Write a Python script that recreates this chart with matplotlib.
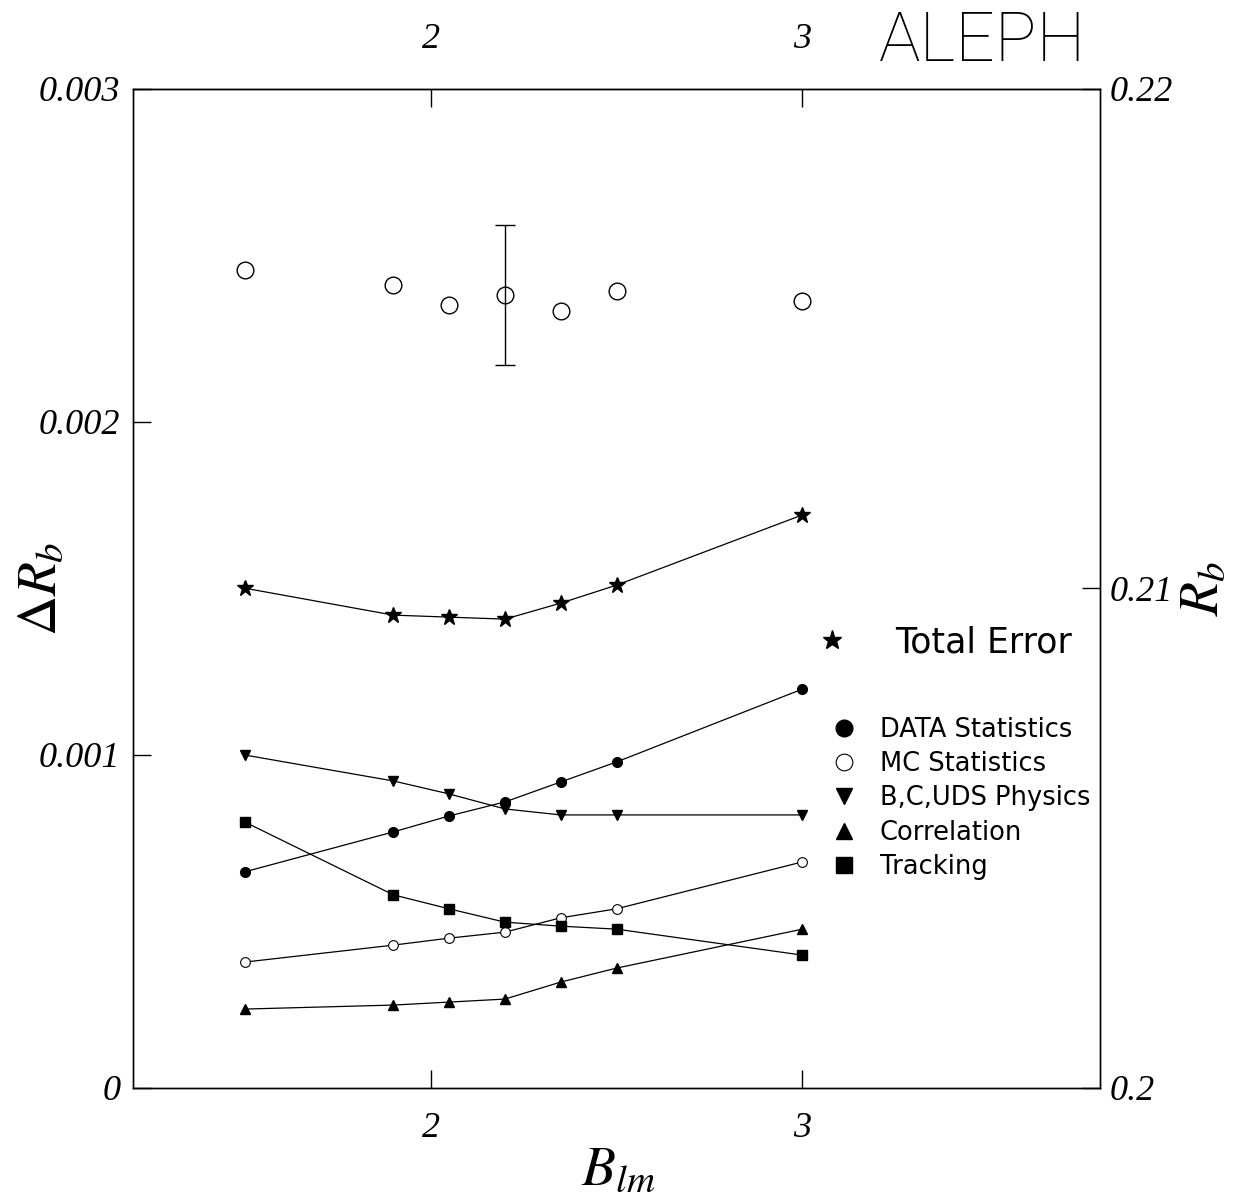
import matplotlib
matplotlib.use("Agg")
import matplotlib.pyplot as plt
from matplotlib.lines import Line2D

plt.rcParams["mathtext.fontset"] = "stix"

# ---------- data ----------
b_lm = [1.5, 1.9, 2.05, 2.2, 2.35, 2.5, 3.0]

total_err = [1.501e-3, 1.420e-3, 1.414e-3, 1.408e-3, 1.456e-3, 1.510e-3, 1.721e-3]
data_stat = [0.649e-3, 0.769e-3, 0.817e-3, 0.859e-3, 0.919e-3, 0.979e-3, 1.198e-3]
mc_stat = [0.378e-3, 0.429e-3, 0.450e-3, 0.468e-3, 0.511e-3, 0.538e-3, 0.679e-3]
bcuds_phys = [1.000e-3, 0.922e-3, 0.883e-3, 0.838e-3, 0.820e-3, 0.820e-3, 0.820e-3]
correlation = [0.237e-3, 0.249e-3, 0.258e-3, 0.267e-3, 0.318e-3, 0.360e-3, 0.477e-3]
tracking = [0.799e-3, 0.580e-3, 0.538e-3, 0.498e-3, 0.486e-3, 0.477e-3, 0.399e-3]

rb_values = [0.21638, 0.21608, 0.21568, 0.21588, 0.21556, 0.21596, 0.21576]
rb_err_x = 2.2
rb_err_y = 0.21588
rb_err = 0.0014

x_ticks = [2, 3]
x_ticklabels = ["2", "3"]
dr_ticks = [0, 0.001, 0.002, 0.003]
dr_ticklabels = ["0", "0.001", "0.002", "0.003"]
rb_ticks = [0.2, 0.21, 0.22]
rb_ticklabels = ["0.2", "0.21", "0.22"]

tickfont = {"family": "Liberation Serif", "style": "italic", "size": 26}
sans = "DejaVu Sans"

fig = plt.figure(figsize=(12.34, 12.01), dpi=100)
ax = fig.add_axes([0.1078, 0.0941, 0.7836, 0.8318])

lw = 0.9
ms = 7
ax.plot(b_lm, total_err, color="k", lw=lw, marker="*", ms=12)
ax.plot(b_lm, data_stat, color="k", lw=lw, marker="o", ms=ms)
ax.plot(b_lm, mc_stat, color="k", lw=lw, marker="o", ms=ms, mfc="white", mew=0.8)
ax.plot(b_lm, bcuds_phys, color="k", lw=lw, marker="v", ms=ms)
ax.plot(b_lm, correlation, color="k", lw=lw, marker="^", ms=ms)
ax.plot(b_lm, tracking, color="k", lw=lw, marker="s", ms=ms)

ax.set_xlim(1.2, 3.8)
ax.set_ylim(0, 0.003)
ax.set_xticks(x_ticks)
ax.set_xticklabels(x_ticklabels, fontdict=tickfont)
ax.set_yticks(dr_ticks)
ax.set_yticklabels(dr_ticklabels, fontdict=tickfont)

# right axis for R_b
ax2 = ax.twinx()
ax2.set_ylim(0.2, 0.22)
ax2.set_yticks(rb_ticks)
ax2.set_yticklabels(rb_ticklabels, fontdict=tickfont)
ax2.plot(b_lm, rb_values, ls="none", marker="o", ms=12, mfc="white", mec="k", mew=1.0)
ax2.errorbar([rb_err_x], [rb_err_y], yerr=[rb_err], fmt="none", ecolor="k",
             elinewidth=1.0, capsize=7, capthick=1.0)

# top axis ticks
ax3 = ax.secondary_xaxis("top")
ax3.set_xticks(x_ticks)
ax3.set_xticklabels(x_ticklabels, fontdict=tickfont)

for a in (ax, ax2):
    for s in a.spines.values():
        s.set_linewidth(1.0)
ax.tick_params(axis="y", direction="in", length=13, width=1.0, pad=9)
ax.tick_params(axis="x", direction="in", length=13, width=1.0, pad=17)
ax2.tick_params(axis="y", direction="in", length=13, width=1.0, pad=7)
ax3.tick_params(direction="in", length=13, width=1.0, pad=24)

ax.set_xlabel(r"$B_{lm}$", fontsize=40)
ax.set_ylabel(r"$\Delta R_b$", fontsize=40)
ax2.set_ylabel(r"$R_b$", fontsize=40)
for lab in (ax.xaxis.label, ax.yaxis.label, ax2.yaxis.label):
    lab.set_rotation_mode("default")
    lab.set_ha("center")
    lab.set_va("center")
ax.xaxis.set_label_coords(0.502, -0.082)
ax.yaxis.set_label_coords(-0.096, 0.5)
ax2.yaxis.set_label_coords(1.1065, 0.5)

# legends
h_tot = [Line2D([], [], color="k", ls="none", marker="*", ms=14)]
leg1 = ax.legend(h_tot, ["Total Error"], loc="upper left",
                 bbox_to_anchor=(0.673, 0.4945), frameon=False,
                 prop={"family": sans, "size": 25}, handletextpad=1.3,
                 handlelength=1.0)
ax.add_artist(leg1)

handles = [
    Line2D([], [], color="k", ls="none", marker="o", ms=12),
    Line2D([], [], color="k", ls="none", marker="o", ms=12, mfc="white", mew=0.8),
    Line2D([], [], color="k", ls="none", marker="v", ms=12),
    Line2D([], [], color="k", ls="none", marker="^", ms=12),
    Line2D([], [], color="k", ls="none", marker="s", ms=11),
]
labels = ["DATA Statistics", "MC Statistics", "B,C,UDS Physics", "Correlation", "Tracking"]
ax.legend(handles, labels, loc="upper left", bbox_to_anchor=(0.698, 0.395),
          frameon=False, prop={"family": sans, "size": 18.5}, labelspacing=0.33,
          handletextpad=0.9, handlelength=1.0)

fig.text(0.796, 0.965, "ALEPH", fontsize=50, family="Roboto", weight="light",
         ha="center", va="center")

fig.savefig("out.png", dpi=100)
